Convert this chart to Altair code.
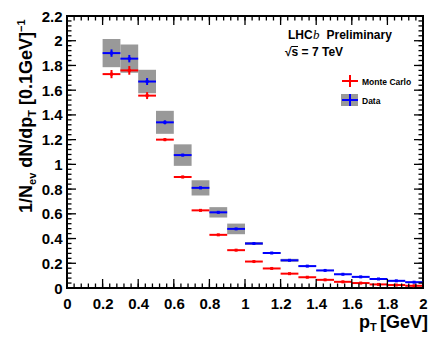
import altair as alt
import pandas as pd
import numpy as np

# ---------------- data ----------------
bin_lo = [0.2, 0.3, 0.4, 0.5, 0.6, 0.7, 0.8, 0.9, 1.0, 1.1, 1.2, 1.3, 1.4, 1.5, 1.6, 1.7, 1.8, 1.9]
bin_hi = [0.3, 0.4, 0.5, 0.6, 0.7, 0.8, 0.9, 1.0, 1.1, 1.2, 1.3, 1.4, 1.5, 1.6, 1.7, 1.8, 1.9, 2.0]

data_val = [1.90, 1.855, 1.67, 1.34, 1.075, 0.81, 0.612, 0.478, 0.36, 0.283, 0.224, 0.177,
            0.142, 0.111, 0.090, 0.073, 0.058, 0.047]
data_stat = [0.030, 0.030, 0.028, 0.016, 0.010, 0.010, 0.008, 0.007, 0.006, 0.005, 0.005, 0.004,
             0.004, 0.003, 0.003, 0.003, 0.003, 0.003]
data_sys = [0.114, 0.115, 0.095, 0.093, 0.087, 0.062, 0.042, 0.043, 0.012, 0.008, 0.012, 0.005,
            0.005, 0.005, 0.005, 0.005, 0.005, 0.005]

mc_val = [1.73, 1.76, 1.556, 1.20, 0.898, 0.628, 0.43, 0.306, 0.214, 0.158, 0.116, 0.087,
          0.066, 0.050, 0.040, 0.029, 0.024, 0.018]
mc_stat = [0.033, 0.035, 0.028, 0.012, 0.010, 0.008, 0.006, 0.005, 0.004, 0.004, 0.003, 0.003,
           0.003, 0.002, 0.002, 0.002, 0.002, 0.002]

x_tick_labels = [0, 0.2, 0.4, 0.6, 0.8, 1.0, 1.2, 1.4, 1.6, 1.8, 2.0]
y_tick_labels = [0, 0.2, 0.4, 0.6, 0.8, 1.0, 1.2, 1.4, 1.6, 1.8, 2.0, 2.2]

# ---------------- tables ----------------
centers = [(a + b) / 2 for a, b in zip(bin_lo, bin_hi)]
dfd = pd.DataFrame({
    "lo": bin_lo, "hi": bin_hi, "c": centers, "v": data_val,
    "slo": [v - s for v, s in zip(data_val, data_stat)],
    "shi": [v + s for v, s in zip(data_val, data_stat)],
    "ylo": [v - s for v, s in zip(data_val, data_sys)],
    "yhi": [v + s for v, s in zip(data_val, data_sys)],
})
dfm = pd.DataFrame({
    "lo": bin_lo, "hi": bin_hi, "c": centers, "v": mc_val,
    "slo": [v - s for v, s in zip(mc_val, mc_stat)],
    "shi": [v + s for v, s in zip(mc_val, mc_stat)],
})

x_minor = pd.DataFrame({"p": np.round(np.arange(0, 2.0001, 0.04), 3)})
y_minor = pd.DataFrame({"p": np.round(np.arange(0, 2.2001, 0.04), 3)})
x_major = pd.DataFrame({"p": x_tick_labels})
y_major = pd.DataFrame({"p": y_tick_labels})

W, H = 356, 272
MAJ, MIN = 9, 4.5
FONT = "Liberation Sans"
RED, BLUE, GREY = "#ff0000", "#0000ff", "#999999"

xs = alt.Scale(domain=[0, 2], nice=False, zero=False)
ys = alt.Scale(domain=[0, 2.2], nice=False, zero=False)
AXX = alt.Axis(values=x_tick_labels, format="~g", labelFlush=False, labelOverlap=False,
               labelPadding=8, labelBaseline="top")
AXY = alt.Axis(values=y_tick_labels, format="~g", labelOverlap=False, labelPadding=5,
               labelBaseline="middle")


def X(f):
    return alt.X(f, type="quantitative", scale=xs, axis=AXX, title=None)


def Y(f):
    return alt.Y(f, type="quantitative", scale=ys, axis=AXY, title=None)


layers = []

# systematic boxes for data
layers.append(alt.Chart(dfd).mark_rect(color=GREY, opacity=1).encode(
    x=X("lo"), x2=alt.X2("hi"), y=Y("ylo"), y2=alt.Y2("yhi")))


def series(df, color):
    out = []
    out.append(alt.Chart(df).mark_rule(color=color, strokeWidth=2).encode(
        x=X("lo"), x2=alt.X2("hi"), y=Y("v")))
    out.append(alt.Chart(df).mark_rule(color=color, strokeWidth=2).encode(
        x=X("c"), y=Y("slo"), y2=alt.Y2("shi")))
    out.append(alt.Chart(df).mark_square(color=color, size=9, opacity=1).encode(
        x=X("c"), y=Y("v")))
    return out


layers += series(dfm, RED)
layers += series(dfd, BLUE)

# inward ticks on all four sides
for df, ln in ((x_minor, MIN), (x_major, MAJ)):
    layers.append(alt.Chart(df).mark_rule(color="black", strokeWidth=1.3).encode(
        x=X("p"), y=alt.value(H), y2=alt.value(H - ln)))
    layers.append(alt.Chart(df).mark_rule(color="black", strokeWidth=1.3).encode(
        x=X("p"), y=alt.value(0), y2=alt.value(ln)))
for df, ln in ((y_minor, MIN), (y_major, MAJ)):
    layers.append(alt.Chart(df).mark_rule(color="black", strokeWidth=1.3).encode(
        y=Y("p"), x=alt.value(0), x2=alt.value(ln)))
    layers.append(alt.Chart(df).mark_rule(color="black", strokeWidth=1.3).encode(
        y=Y("p"), x=alt.value(W), x2=alt.value(W - ln)))


def txt(s, x, y, size, weight="bold", angle=0, style="normal", font=FONT, align="left"):
    return alt.Chart(pd.DataFrame({"t": [s]})).mark_text(
        font=font, fontSize=size, fontWeight=weight, fontStyle=style, angle=angle,
        align=align, baseline="alphabetic", color="black").encode(
        x=alt.value(x), y=alt.value(y), text="t:N")


# y-axis title with sub/superscripts (rotated, reading upward)
F, S = 18, 11
MAIN_X, SUB_X, SUP_X = -35, -31, -42
GAP = 0.278 * F
yy = 197
pieces = [("1/N", F, MAIN_X, 1.556, 0), ("ev", S, SUB_X, 1.112, GAP),
          ("dN/dp", F, MAIN_X, 2.833, 0), ("T", S, SUB_X, 0.611, GAP),
          ("[0.1GeV]", F, MAIN_X, 4.057, 0), ("\u22121", S, SUP_X, 1.14, 0)]
for s, sz, bx, em, gap in pieces:
    layers.append(txt(s, bx, yy, sz, angle=270))
    yy -= em * sz + gap

# x-axis title
layers.append(txt("p", 292, 312, 18))
layers.append(txt("T", 303, 315, 11))
layers.append(txt("[GeV]", 313, 312, 18))

# LHCb label
layers.append(txt("LHC", 221, 23, 12))
layers.append(txt("b", 246, 23, 13, weight="normal", style="italic", font="Liberation Serif"))
layers.append(txt("Preliminary", 259.5, 23, 12))
layers.append(txt("\u221a", 218, 40, 12))
layers.append(txt("s = 7 TeV", 224.6, 40, 12))
layers.append(alt.Chart(pd.DataFrame({"a": [0]})).mark_rule(color="black", strokeWidth=1).encode(
    x=alt.value(224.2), x2=alt.value(231), y=alt.value(30.5)))

# legend
one = pd.DataFrame({"a": [0]})
layers.append(alt.Chart(one).mark_rule(color=RED, strokeWidth=2).encode(
    x=alt.value(275), x2=alt.value(291), y=alt.value(65)))
layers.append(alt.Chart(one).mark_rule(color=RED, strokeWidth=2).encode(
    x=alt.value(283), y=alt.value(59), y2=alt.value(71)))
layers.append(txt("Monte Carlo", 295, 68.5, 8.5))
layers.append(alt.Chart(one).mark_rect(color=GREY).encode(
    x=alt.value(274), x2=alt.value(291), y=alt.value(78), y2=alt.value(90)))
layers.append(alt.Chart(one).mark_rule(color=BLUE, strokeWidth=2).encode(
    x=alt.value(275), x2=alt.value(291), y=alt.value(84)))
layers.append(alt.Chart(one).mark_rule(color=BLUE, strokeWidth=2).encode(
    x=alt.value(283), y=alt.value(78), y2=alt.value(90)))
layers.append(txt("Data", 295, 87.5, 8.5))

chart = alt.layer(*layers).properties(
    width=W, height=H,
    autosize=alt.AutoSizeParams(type="none"),
    padding={"left": 59, "top": 8, "right": 6, "bottom": 44},
    background="white",
).configure_view(
    stroke="black", strokeWidth=2
).configure_axis(
    grid=False, domain=False, ticks=False, tickSize=0,
    labelFont=FONT, labelFontWeight="bold", labelFontSize=15, labelColor="black",
)

chart.save("out.html", embed_options={"renderer": "svg", "actions": False})
